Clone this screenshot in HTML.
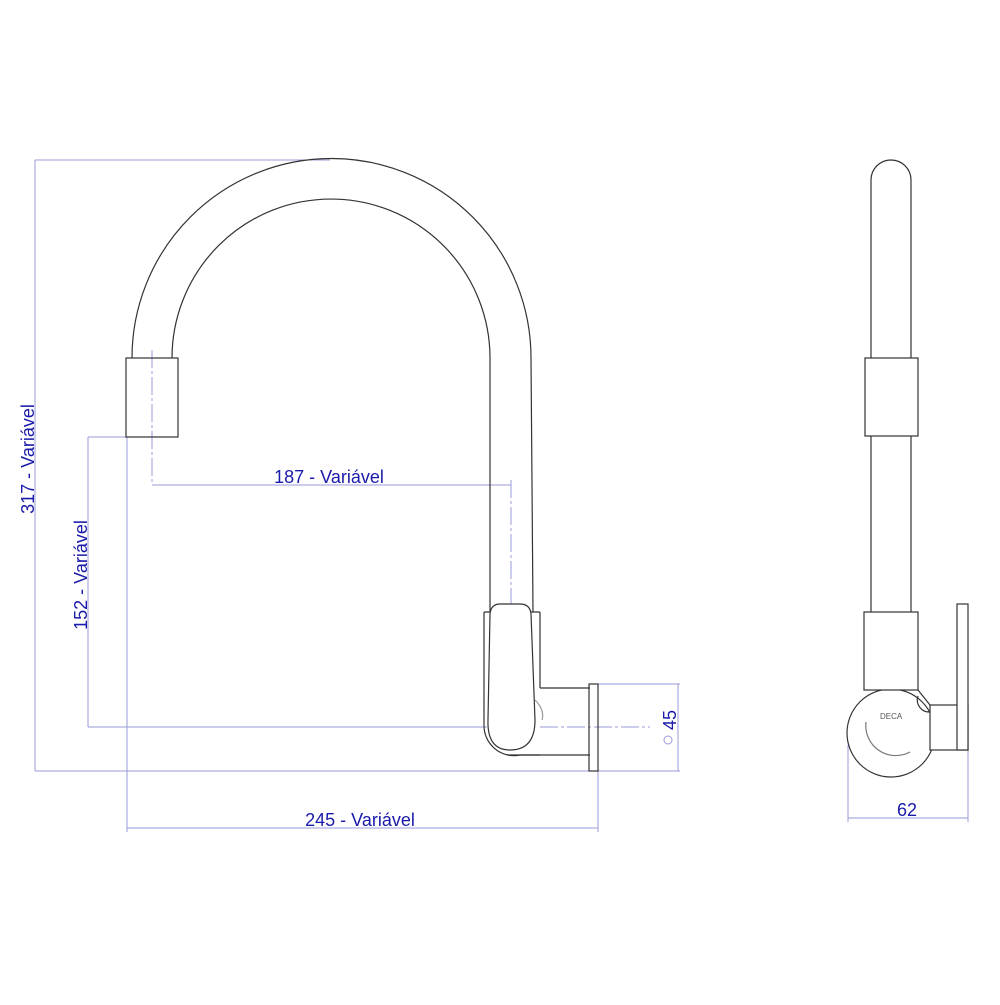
<!DOCTYPE html>
<html><head><style>body{margin:0;background:#fff}</style></head><body>
<svg width="1000" height="1000" viewBox="0 0 1000 1000" xmlns="http://www.w3.org/2000/svg" font-family="Liberation Sans, sans-serif">
<g stroke="#9a9ad8" stroke-width="1" fill="none">
<line x1="35" y1="160" x2="35" y2="771"/>
<line x1="35" y1="160" x2="330" y2="160"/>
<line x1="35" y1="771" x2="680" y2="771"/>
<line x1="88" y1="437" x2="88" y2="727"/>
<line x1="88" y1="437" x2="127" y2="437"/>
<line x1="88" y1="727" x2="487" y2="727"/>
<line x1="152" y1="485" x2="511" y2="485"/>
<line x1="152" y1="350" x2="152" y2="485" stroke-dasharray="18,3,3,3"/>
<line x1="511" y1="480" x2="511" y2="730" stroke-dasharray="18,3,3,3"/>
<line x1="127" y1="828" x2="598" y2="828"/>
<line x1="127" y1="437" x2="127" y2="832"/>
<line x1="598" y1="771" x2="598" y2="832"/>
<line x1="598" y1="684" x2="680" y2="684"/>
<line x1="678" y1="684" x2="678" y2="771"/>
<line x1="540" y1="727" x2="650" y2="727" stroke-dasharray="18,3,3,3"/>
<line x1="848" y1="818" x2="968" y2="818"/>
<line x1="848" y1="745" x2="848" y2="822"/>
<line x1="968" y1="750" x2="968" y2="822"/>
</g>
<g stroke="#333" stroke-width="1.2" fill="none">
<path d="M132 358 A199 199 0 0 1 531 358 L533 612"/>
<path d="M172 358 A159 159 0 0 1 490 358 L490 612"/>
<rect x="126" y="358" width="52" height="79"/>
<path d="M484 612 L484 688 M540 612 L540 688 M484 612 L540 612"/>
<path d="M540 688 L590 688 M540 755 L520 755 A30 30 0 0 1 484 725 L484 688"/>
<path d="M508 755 L590 755"/>
<path d="M500 604 L520 604 Q530 604 531 614 L535 720 Q535 750 510 750 Q487 750 488 720 L490 614 Q491 604 500 604 Z" fill="#fff"/>
<rect x="589" y="684" width="9" height="87"/>
<path d="M535 700 Q545 710 542 720" stroke="#999"/>
<path d="M871 358 L871 180 A20 20 0 0 1 911 180 L911 358"/>
<rect x="865" y="358" width="53" height="78"/>
<path d="M871 436 L871 612 M911 436 L911 612"/>
<circle cx="891" cy="733" r="44"/>
<path d="M866 722 A30 30 0 0 0 910 752" stroke="#777"/>
<rect x="864" y="612" width="54" height="78" fill="#fff"/>
<rect x="930" y="705" width="38" height="45" fill="#fff"/>
<path d="M918 690 L930 705"/>
<rect x="957" y="604" width="11" height="146" fill="#fff"/>
<path d="M918 696 A12 12 0 0 0 930 712"/>
</g>
<text x="880" y="719" font-size="8" fill="#555">DECA</text>
<g fill="#1a1aaa" font-size="18">
<text x="329" y="483" text-anchor="middle">187 - Variável</text>
<text x="360" y="826" text-anchor="middle">245 - Variável</text>
<text x="907" y="816" text-anchor="middle">62</text>
<text transform="translate(34,459) rotate(-90)" text-anchor="middle">317 - Variável</text>
<text transform="translate(87,575) rotate(-90)" text-anchor="middle">152 - Variável</text>
<text transform="translate(676,720) rotate(-90)" text-anchor="middle">45</text>
</g>
<circle cx="668" cy="740" r="4" fill="none" stroke="#9a9ad8"/>
</svg>
</body></html>
